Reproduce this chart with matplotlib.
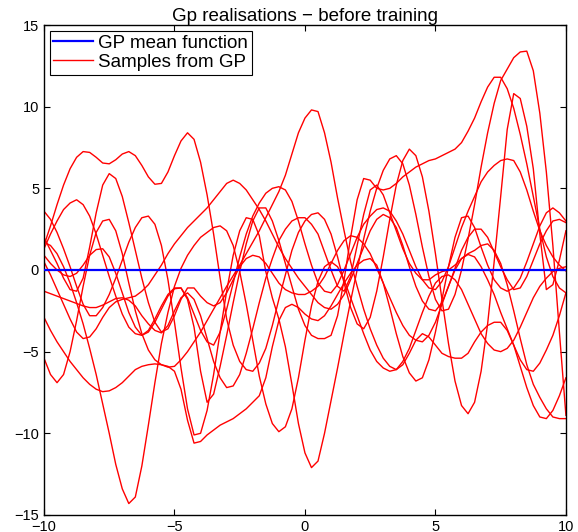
import numpy as np
import matplotlib
matplotlib.use("Agg")
import matplotlib.pyplot as plt

plt.rcParams['font.family'] = ['Liberation Sans', 'DejaVu Sans']

# sample grid, x step 0.25
x = np.linspace(-10, 10, 81)

# GP mean function
mean_fn = [0.0] * len(x)

# ten realisations (9 values per row)
s1 = [1.5, 2.7, 4.0, 5.2, 6.2, 6.9, 7.25, 7.2, 6.9,
      6.55, 6.5, 6.75, 7.1, 7.25, 7.0, 6.4, 5.7, 5.25,
      5.3, 6.0, 7.0, 7.9, 8.4, 8.0, 6.6, 4.6, 2.2,
      -0.5, -3.0, -4.6, -5.6, -6.1, -6.2, -5.7, -4.8, -3.4,
      -1.8, -0.3, 1.2, 2.3, 3.0, 3.4, 3.5, 3.1, 2.2,
      0.8, -0.8, -2.3, -3.3, -3.6, -2.9, -1.3, 0.8, 3.1,
      5.2, 6.7, 7.4, 7.0, 5.7, 3.6, 1.0, -1.8, -4.5,
      -6.8, -8.3, -8.8, -8.1, -6.2, -3.3, 0.5, 4.5, 8.6,
      10.8, 10.5, 8.8, 6.2, 2.2, -1.2, -0.9, 0.6, 2.4]
s2 = [0.9, 0.4, 0.0, -0.3, -0.4, -0.2, 0.3, 0.9, 1.25,
      1.3, 0.8, -0.2, -1.4, -2.6, -3.5, -4.0, -3.8, -3.2,
      -2.4, -1.6, -1.15, -1.1, -1.8, -3.5, -6.2, -8.1, -7.6,
      -5.9, -4.0, -2.0, -0.1, 1.6, 3.0, 3.8, 3.8, 3.0,
      1.8, 0.4, -1.0, -2.4, -3.4, -4.0, -4.2, -4.2, -4.0,
      -2.8, -0.6, 2.0, 4.3, 5.6, 5.5, 5.0, 4.9, 5.0,
      5.3, 5.7, 6.0, 6.3, 6.5, 6.7, 6.8, 7.0, 7.2,
      7.4, 7.8, 8.5, 9.3, 10.3, 11.2, 11.8, 11.8, 11.1,
      9.9, 8.3, 6.5, 4.5, 2.5, 0.8, -0.4, -1.1, -1.4]
s3 = [1.7, 1.5, 1.0, 0.2, -0.8, -2.0, -3.3, -4.8, -6.4,
      -8.2, -10.0, -11.9, -13.4, -14.3, -13.9, -12.0, -9.5, -6.9,
      -4.5, -2.6, -1.0, 0.1, 0.9, 1.5, 2.0, 2.3, 2.6,
      2.7, 2.4, 1.5, -0.1, -2.1, -4.3, -6.5, -8.2, -9.4,
      -9.9, -9.6, -8.5, -6.6, -4.3, -2.2, -0.7, 0.2, 0.5,
      0.2, -0.6, -1.7, -2.8, -3.9, -4.9, -5.6, -6.0, -6.2,
      -6.1, -5.6, -4.8, -3.7, -2.6, -1.6, -0.8, -0.4, -0.3,
      -0.6, -1.2, -2.1, -3.0, -3.9, -4.5, -4.9, -5.0, -4.8,
      -4.3, -3.5, -2.6, -1.7, -1.0, -0.5, -0.1, 0.1, 0.2]
s4 = [3.6, 3.1, 2.3, 1.3, 0.2, -1.0, -2.1, -2.8, -2.8,
      -2.3, -1.5, -0.5, 0.6, 1.7, 2.6, 3.2, 3.3, 2.8,
      1.5, -0.6, -3.2, -6.0, -8.5, -10.1, -10.0, -8.6, -6.4,
      -3.8, -1.3, 0.9, 2.4, 3.2, 3.1, 2.1, -0.1, -1.7,
      -3.0, -4.7, -7.0, -9.4, -11.2, -12.1, -11.7, -10.0, -8.0,
      -6.0, -3.9, -1.9, 0.0, 1.9, 3.6, 5.0, 6.1, 6.8,
      7.0, 6.5, 5.2, 3.4, 1.4, -0.4, -1.8, -2.5, -2.4,
      -1.5, 0.0, 1.9, 4.0, 6.3, 8.4, 10.2, 11.6, 12.3,
      13.0, 13.35, 13.4, 12.2, 9.6, 6.0, 1.5, -3.8, -8.9]
s5 = [-2.9, -3.7, -4.4, -5.0, -5.6, -6.1, -6.6, -7.0, -7.3,
      -7.45, -7.4, -7.2, -6.9, -6.5, -6.1, -5.9, -5.8, -5.75,
      -5.8, -5.9, -6.2, -7.3, -9.2, -10.6, -10.5, -10.1, -9.8,
      -9.5, -9.3, -9.1, -8.8, -8.5, -8.1, -7.7, -6.6, -4.7,
      -3.1, -2.3, -2.1, -2.3, -2.7, -3.0, -3.1, -2.8, -2.2,
      -1.5, -0.8, -0.2, 0.3, 0.6, 0.7, 0.3, -0.8, -2.3,
      -3.9, -5.3, -6.3, -6.8, -6.6, -5.5, -3.8, -1.8, 0.2,
      2.0, 3.2, 3.3, 2.6, 1.4, 0.3, -0.6, -1.1, -1.3,
      -1.1, -0.5, 0.5, 1.6, 2.7, 3.5, 3.8, 3.5, 3.0]
s6 = [1.3, 2.2, 3.0, 3.7, 4.1, 4.3, 4.0, 3.3, 2.2,
      0.9, -0.4, -1.6, -2.7, -3.5, -3.9, -4.0, -3.7, -3.0,
      -2.2, -1.5, -1.1, -1.1, -1.7, -2.7, -3.7, -4.4, -4.6,
      -3.8, -2.4, -0.8, 0.8, 2.2, 3.3, 4.1, 4.7, 5.0,
      5.1, 4.9, 4.2, 3.0, 1.6, 0.3, -0.8, -1.3, -1.4,
      -0.9, 0.0, 1.0, 2.0, 2.8, 3.3, 3.7, 3.8, 3.6,
      3.0, 2.2, 1.2, 0.2, -0.6, -1.1, -1.2, -0.7, 0.2,
      1.4, 2.6, 3.6, 4.5, 5.4, 6.0, 6.4, 6.7, 6.8,
      6.7, 6.0, 4.9, 3.6, 2.4, 1.5, 0.8, 0.3, -0.06]
s7 = [-5.4, -6.4, -6.9, -6.4, -5.0, -3.1, -1.0, 0.9, 2.3,
      3.0, 3.1, 2.4, 1.0, -0.8, -2.5, -3.9, -4.9, -5.5,
      -5.8, -5.95, -5.9, -5.5, -5.0, -4.4, -3.8, -3.1, -2.4,
      -1.7, -1.0, -0.35, 0.3, 1.0, 1.7, 2.4, 3.2, 4.0,
      4.8, 5.8, 7.1, 8.4, 9.3, 9.8, 9.7, 8.4, 6.6,
      4.4, 2.4, 0.5, -1.0, -2.4, -3.6, -4.6, -5.4, -5.9,
      -6.1, -5.8, -5.1, -4.3, -3.9, -4.1, -4.6, -5.1, -5.3,
      -5.4, -5.4, -5.1, -4.4, -3.8, -3.4, -3.2, -3.2, -3.7,
      -4.6, -5.9, -7.2, -8.3, -9.0, -9.1, -8.6, -7.7, -6.6]
s8 = [-1.3, -1.45, -1.6, -1.75, -1.9, -2.05, -2.2, -2.3, -2.3,
      -2.15, -1.95, -1.75, -1.7, -1.85, -2.2, -2.8, -3.3, -3.7,
      -3.85, -3.4, -2.5, -1.7, -1.4, -1.8, -2.8, -4.2, -5.6,
      -6.6, -7.2, -7.1, -6.4, -5.1, -3.6, -2.0, -0.5, 0.7,
      1.8, 2.5, 3.0, 3.2, 3.2, 2.8, 2.2, 1.1, 0.0,
      -1.0, -1.3, -0.4, 1.5, 3.4, 4.9, 5.2, 4.6, 3.5,
      2.4, 1.3, 0.4, -0.2, -0.6, -0.6, -0.3, -0.1, 0.0,
      0.3, 0.7, 1.0, 1.2, 1.5, 1.6, 1.2, 0.4, -0.9,
      -2.5, -4.2, -5.8, -7.0, -7.8, -8.5, -9.0, -9.1, -9.1]
s9 = [0.5, -0.3, -1.2, -2.1, -3.0, -3.8, -4.2, -4.1, -3.6,
      -2.9, -2.3, -1.95, -1.8, -1.7, -1.6, -1.3, -0.9, -0.3,
      0.3, 1.0, 1.6, 2.1, 2.6, 3.0, 3.4, 3.8, 4.3,
      4.8, 5.3, 5.5, 5.3, 4.9, 4.3, 3.7, 3.0, 2.2,
      1.4, 0.7, 0.1, -0.5, -1.0, -1.5, -2.0, -2.3, -2.4,
      -2.1, -1.5, -0.6, 0.4, 1.4, 2.4, 3.1, 3.4, 3.2,
      2.6, 1.5, 0.2, -1.0, -1.9, -2.4, -2.5, -2.0, -1.0,
      0.1, 1.2, 2.0, 2.5, 2.5, 2.0, 1.1, 0.2, -0.6,
      -1.2, -1.1, -0.4, 0.6, 1.6, 2.4, 3.0, 3.1, 2.9]
s10 = [2.0, 1.2, 0.4, -0.5, -1.2, -1.3, -0.5, 1.4, 3.5,
       5.2, 5.9, 5.6, 4.5, 2.9, 1.2, -0.5, -2.0, -3.2,
       -3.8, -3.6, -2.8, -1.8, -1.1, -1.1, -1.6, -2.0, -2.2,
       -2.0, -1.4, -0.6, 0.2, 0.7, 0.9, 0.8, 0.4, -0.2,
       -0.8, -1.2, -1.4, -1.5, -1.5, -1.3, -1.0, -0.4, 0.4,
       1.2, 1.8, 2.1, 2.0, 1.6, 1.0, 0.1, -0.8, -1.7,
       -2.6, -3.4, -4.0, -4.3, -4.4, -4.0, -3.2, -2.1, -1.0,
       0.0, 0.7, 0.95, 0.8, 0.2, -0.6, -1.5, -2.6, -3.6,
       -4.6, -5.5, -6.1, -6.2, -5.7, -4.9, -4.0, -2.8, -1.4]
samples = [s1, s2, s3, s4, s5, s6, s7, s8, s9, s10]

fig = plt.figure(figsize=(5.78, 5.32), dpi=100)
ax = fig.add_axes([0.0761, 0.032, 0.903, 0.921])

ax.plot(x, mean_fn, color='#0000ff', lw=1.6, label='GP mean function', zorder=3)
for i, s in enumerate(samples):
    ax.plot(x, s, color='#ff0000', lw=1.0, solid_joinstyle='round',
            label='Samples from GP' if i == 0 else None)

ax.set_xlim(-10, 10)
ax.set_ylim(-15, 15)
ax.set_xticks([-10, -5, 0, 5, 10])
ax.set_yticks([-15, -10, -5, 0, 5, 10, 15])
ax.tick_params(direction='in', top=True, right=True, labelsize=10.5, length=4, width=0.8)
for sp in ax.spines.values():
    sp.set_linewidth(1.0)
ax.set_title('Gp realisations \u2212 before training', fontsize=13.5, pad=3)

leg = ax.legend(loc='upper left', fontsize=13.5, fancybox=False, framealpha=1,
                edgecolor='black', borderaxespad=0.3, handlelength=2.1,
                handletextpad=0.3, labelspacing=0.12, borderpad=0.2)
leg.get_frame().set_linewidth(0.8)

fig.savefig('out.png', dpi=100)
